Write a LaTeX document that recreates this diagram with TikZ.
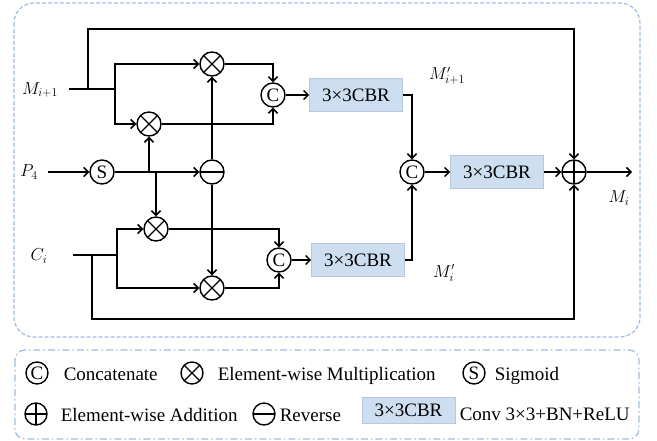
\documentclass[tikz,border=0pt]{standalone}
\usepackage{fontspec}
\setmainfont{Liberation Serif}
\usetikzlibrary{arrows.meta,calc}
\definecolor{frameblue}{RGB}{160,188,228}
\definecolor{cbrfill}{RGB}{204,222,239}
\definecolor{cbrline}{RGB}{180,200,222}
\newcommand\subsz[1]{\mbox{\fontsize{12}{12}\selectfont$#1$}}
\begin{document}
\begin{tikzpicture}[x=1pt,y=-1pt,
  line width=1.5pt,
  arr/.style={-{Straight Barb[length=4.5pt,width=9pt,line width=1.5pt]}},
  op/.style={circle,draw,line width=1.4pt,minimum size=24pt,inner sep=0pt,font=\fontsize{19}{20}\selectfont},
  lop/.style={op,minimum size=22pt},
  mulx/.style={path picture={\draw[line width=1.4pt] (path picture bounding box.north west) -- (path picture bounding box.south east) (path picture bounding box.north east) -- (path picture bounding box.south west);}},
  addx/.style={path picture={\draw[line width=1.4pt] (path picture bounding box.north) -- (path picture bounding box.south) (path picture bounding box.west) -- (path picture bounding box.east);}},
  revx/.style={path picture={\draw[line width=1.4pt] (path picture bounding box.west) -- (path picture bounding box.east);}},
  cbr/.style={fill=cbrfill,draw=cbrline,line width=0.6pt,minimum width=93pt,minimum height=33pt,inner sep=0pt,font=\fontsize{19}{20}\selectfont},
  lbl/.style={inner sep=0pt,font=\fontsize{16}{17}\selectfont},
  leg/.style={anchor=base west,inner sep=0pt,font=\fontsize{19}{20}\selectfont}
]
\useasboundingbox (0,0) rectangle (657,441);

% frames
\draw[frameblue,line width=1.2pt,dash pattern=on 4pt off 2pt,rounded corners=20pt] (14,3) rectangle (640,337);
\draw[frameblue,line width=1.2pt,dash pattern=on 7pt off 3pt on 1.5pt off 3pt,rounded corners=10pt] (15,350) rectangle (639,439);

% operators
\node[op,mulx] (mul1) at (212,64) {};
\node[op,mulx] (mul2) at (149,124) {};
\node[op] (c1) at (273,95) {C};
\node[cbr] (cbr1) at (356,95) {3×3CBR};
\node[op] (s) at (102,172) {S};
\node[op,revx] (rev) at (212,172) {};
\node[op,mulx] (mul3) at (156,229) {};
\node[op,mulx] (mul4) at (212,288) {};
\node[op] (c2) at (279,260) {C};
\node[cbr] (cbr2) at (358,260) {3×3CBR};
\node[op] (c3) at (412,172) {C};
\node[cbr] (cbr3) at (497,172) {3×3CBR};
\node[op,addx] (add) at (574,172) {};

% labels
\node[lbl] (lm) at (40,90) {$M_{\subsz{i{+}1}}$};
\node[lbl] (lp) at (29,172) {$P_{\subsz{4}}$};
\node[lbl] (lc) at (39,256) {$C_{\subsz{i}}$};
\node[lbl] (lmp1) at (447,76) {$M^{\prime}_{\subsz{i{+}1}}$};
\node[lbl] (lmp) at (444,273) {$M^{\prime}_{\subsz{i}}$};
\node[lbl] (lmi) at (619,198) {$M_{\subsz{i}}$};

% coordinates
\coordinate (mstart) at (69,89);
\coordinate (j1) at (88,89);
\coordinate (j2) at (115,89);
\coordinate (topy) at (0,29);
\coordinate (pstart) at (48,172);
\coordinate (cstart) at (73,255);
\coordinate (k1) at (92,255);
\coordinate (k2) at (117,255);
\coordinate (boty) at (0,319);
\coordinate (outend) at (632,172);

% connectors
\draw (mstart) -- (j2);
\draw[arr] (j1) |- (topy -| add) -- (add);
\draw[arr] (j2) |- (mul1);
\draw[arr] (j2) |- (mul2);
\draw[arr] (mul1) -| (c1);
\draw[arr] (mul2) -| (c1);
\draw[arr] (c1) -- (cbr1);
\draw[arr] (pstart) -- (s);
\draw[arr] (s) -- (rev);
\draw[arr] (s -| mul2) -- (mul2);
\draw[arr] (s -| mul3) -- (mul3);
\draw[arr] (rev) -- (mul1);
\draw[arr] (rev) -- (mul4);
\draw (cstart) -- (k2);
\draw[arr] (k2) |- (mul3);
\draw[arr] (k2) |- (mul4);
\draw[arr] (k1) |- (boty -| add) -- (add);
\draw[arr] (mul3) -| (c2);
\draw[arr] (mul4) -| (c2);
\draw[arr] (c2) -- (cbr2);
\draw[arr] (cbr1) -| (c3);
\draw[arr] (cbr2) -| (c3);
\draw[arr] (c3) -- (cbr3);
\draw[arr] (cbr3) -- (add);
\draw[arr] (add) -- (outend);

% legend
\node[lop] (lgc) at (37,373) {C};
\node[leg] (lgct) at (63,380) {Concatenate};
\node[lop,mulx] (lgm) at (192,373) {};
\node[leg] (lgmt) at (217,380) {Element-wise Multiplication};
\node[lop] (lgs) at (474,373) {S};
\node[leg] (lgst) at (494,380) {Sigmoid};
\node[lop,addx] (lga) at (36,414) {};
\node[leg] (lgat) at (60,421) {Element-wise Addition};
\node[lop,revx] (lgr) at (264,414) {};
\node[leg] (lgrt) at (279,421) {Reverse};
\node[cbr,minimum height=26pt] (lgb) at (408.5,410) {3×3CBR};
\node[leg] (lgbt) at (459,420) {Conv 3×3+BN+ReLU};
\end{tikzpicture}
\end{document}
